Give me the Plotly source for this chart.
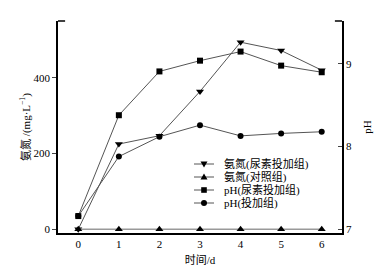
import plotly.graph_objects as go

days = [0, 1, 2, 3, 4, 5, 6]
nh_urea = [0, 225, 247, 364, 494, 472, 420]
nh_ctrl = [0, 0, 0, 0, 0, 0, 0]
ph_urea = [7.16, 8.38, 8.91, 9.04, 9.15, 8.98, 8.90]
ph_add = [7.16, 7.88, 8.12, 8.26, 8.13, 8.16, 8.18]

names = ["氨氮(尿素投加组)", "氨氮(对照组)", "pH(尿素投加组)", "pH(投加组)"]
FONT = "Liberation Serif, Noto Sans CJK SC, serif"
LC = "#555555"

# plot area in pixels
L, R, T, B = 58, 342, 21, 233
W, H = 386, 273

fig = go.Figure()
fig.add_trace(go.Scatter(x=days, y=nh_urea, name=names[0], mode="lines+markers",
                         line=dict(color=LC, width=1),
                         marker=dict(symbol="triangle-down", size=7, color="black")))
fig.add_trace(go.Scatter(x=days, y=nh_ctrl, name=names[1], mode="lines+markers",
                         line=dict(color="#999999", width=1.4),
                         marker=dict(symbol="triangle-up", size=7, color="black")))
fig.add_trace(go.Scatter(x=days, y=ph_urea, name=names[2], mode="lines+markers", yaxis="y2",
                         line=dict(color=LC, width=1),
                         marker=dict(symbol="square", size=6, color="black")))
fig.add_trace(go.Scatter(x=days, y=ph_add, name=names[3], mode="lines+markers", yaxis="y2",
                         line=dict(color=LC, width=1),
                         marker=dict(symbol="circle", size=6, color="black")))

def px_x(p):
    return (p - L) / (R - L)

def px_y(p):
    return (B - p) / (B - T)

shapes = [
    dict(type="line", xref="paper", yref="paper", x0=0, x1=0.025, y0=1, y1=1,
         line=dict(color="black", width=1.5)),
    dict(type="line", xref="paper", yref="paper", x0=0.975, x1=1, y0=1, y1=1,
         line=dict(color="black", width=1.5)),
]
annotations = []
rows = [164, 177, 190, 203]
marker_paths = [
    "M-3.5,2.5 L3.5,2.5 L0,-3.5 Z",   # triangle down
    "M-3.5,-2.5 L3.5,-2.5 L0,3.5 Z",  # triangle up
    "M-2.8,-2.8 L2.8,-2.8 L2.8,2.8 L-2.8,2.8 Z",  # square
    None,
]
for i, (ry, nm) in enumerate(zip(rows, names)):
    yy = px_y(ry)
    shapes.append(dict(type="line", xref="paper", yref="paper",
                       x0=px_x(194), x1=px_x(214), y0=yy, y1=yy,
                       line=dict(color=LC, width=1)))
    if marker_paths[i] is not None:
        shapes.append(dict(type="path", xref="paper", yref="paper",
                           xsizemode="pixel", ysizemode="pixel",
                           xanchor=px_x(204), yanchor=yy,
                           path=marker_paths[i], fillcolor="black",
                           line=dict(color="black", width=0)))
    else:
        shapes.append(dict(type="circle", xref="paper", yref="paper",
                           xsizemode="pixel", ysizemode="pixel",
                           xanchor=px_x(204), yanchor=yy,
                           x0=-3, x1=3, y0=-3, y1=3, fillcolor="black",
                           line=dict(color="black", width=0)))
    annotations.append(dict(text=nm, xref="paper", yref="paper", x=px_x(222), y=yy,
                            xanchor="left", yanchor="middle", showarrow=False,
                            font=dict(size=11, family=FONT)))

fig.update_layout(
    width=W, height=H,
    margin=dict(l=L, r=W - R, t=T, b=H - B),
    paper_bgcolor="white", plot_bgcolor="white",
    font=dict(family=FONT, size=11, color="black"),
    showlegend=False,
    xaxis=dict(range=[-0.5, 6.5], tickvals=days, showgrid=False, zeroline=False,
               showline=True, linecolor="black", linewidth=1.5, ticks="", automargin=False,
               title=dict(text="时间/d", standoff=7, font=dict(size=11))),
    yaxis=dict(range=[-10, 550], tickvals=[0, 200, 400], showgrid=False, zeroline=False,
               showline=True, linecolor="black", linewidth=1.5, ticks="outside", ticklen=4,
               automargin=False,
               title=dict(text="氨氮 /(mg·L<sup>−1</sup>)", standoff=1, font=dict(size=11))),
    yaxis2=dict(range=[6.955, 9.52], tickvals=[7, 8, 9], overlaying="y", side="right",
                showgrid=False, zeroline=False, showline=True, linecolor="black", linewidth=1.5,
                ticks="inside", ticklen=4, automargin=False,
                title=dict(text="pH", standoff=12, font=dict(size=11))),
    shapes=shapes,
    annotations=annotations,
)

fig.write_html("out.html", config={"displayModeBar": False},
               post_script="document.body.style.margin='0';document.body.style.overflow='hidden';")
